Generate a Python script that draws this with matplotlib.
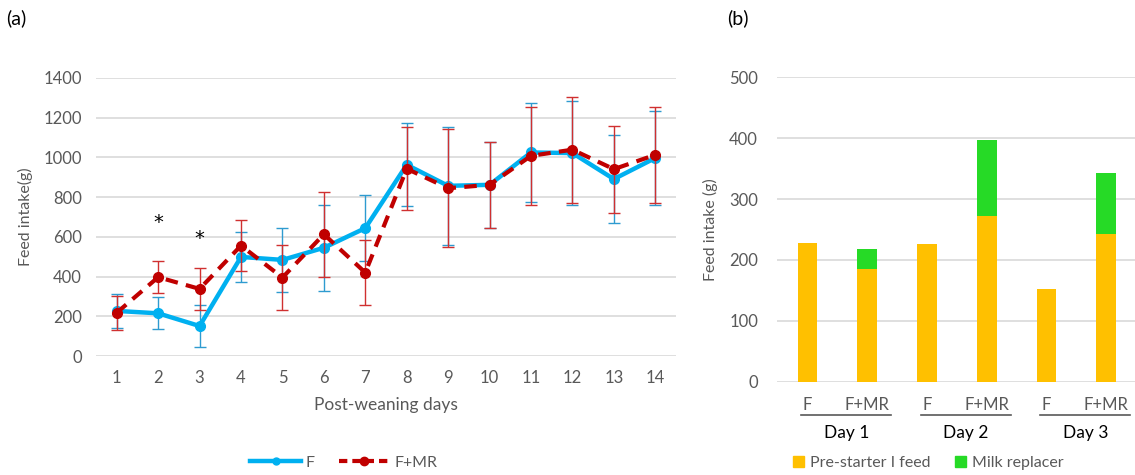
import matplotlib.pyplot as plt
from matplotlib.patches import Patch
from matplotlib.lines import Line2D

plt.rcParams['font.family'] = ['Lato', 'DejaVu Sans']

# daily feed intake after weaning (g), mean and sd
days = list(range(1, 15))
f_mean = [227, 215, 151, 499, 484, 545, 644, 963, 857, 862, 1025, 1022, 891, 997]
f_sd = [84, 80, 106, 128, 160, 217, 167, 209, 298, 215, 247, 263, 220, 235]
mr_mean = [218, 397, 338, 556, 395, 613, 420, 943, 845, 862, 1008, 1039, 941, 1013]
mr_sd = [86, 80, 105, 127, 162, 214, 165, 209, 298, 216, 248, 266, 219, 240]
star_days = [2, 3]
star_y = [672, 593]

# first three days: pre-starter feed and milk replacer intake (g)
groups = ['F', 'F+MR', 'F', 'F+MR', 'F', 'F+MR']
day_names = ['Day 1', 'Day 2', 'Day 3']
starter = [227, 185, 226, 272, 152, 242]
milk = [0, 33, 0, 125, 0, 101]

gray = '#595959'
grid_c = '#D9D9D9'
blue = '#00B0F0'
red = '#C00000'
orange = '#FFC000'
green = '#26DA26'

fig = plt.figure(figsize=(11.35, 4.75), dpi=100)

# (a) line chart
ax = fig.add_axes([0.0846, 0.2505, 0.511, 0.5853])
ax.errorbar(days, f_mean, yerr=f_sd, color=blue, lw=3.2, marker='o', ms=7,
            ecolor='#2E9BD0', elinewidth=1, capsize=4, capthick=1, zorder=3)
ax.errorbar(days, mr_mean, yerr=mr_sd, color=red, lw=3, ls=(0, (3, 2)), marker='o', ms=7,
            ecolor='#D03030', elinewidth=1, capsize=4, capthick=1, zorder=4)
for d, y in zip(star_days, star_y):
    ax.text(d, y, '*', ha='center', va='center', fontsize=14, color='black',
            family='DejaVu Sans')
ax.set_xlim(0.5, 14.5)
ax.set_ylim(0, 1400)
ax.set_yticks(range(0, 1401, 200))
ax.set_xticks(days)
ax.grid(axis='y', color=grid_c, lw=1.2)
ax.set_axisbelow(True)
for s in ax.spines.values():
    s.set_visible(False)
ax.tick_params(length=0, labelsize=12, colors=gray, pad=10)
ax.set_xlabel('Post-weaning days', fontsize=12.5, color=gray, labelpad=8)
ax.set_ylabel('Feed intake(g)', fontsize=11.5, color=gray, labelpad=8)
handles = [Line2D([], [], color=blue, lw=3.2, marker='o', ms=5),
           Line2D([], [], color=red, lw=3, ls=(0, (2, 1.2)), marker='o', ms=6)]
fig.legend(handles, ['F', 'F+MR'], loc='center', bbox_to_anchor=(0.303, 0.026), ncol=2,
           frameon=False, fontsize=11.5, labelcolor=gray, handlelength=3.2,
           handletextpad=0.3, columnspacing=1.5)
fig.text(0.005, 0.962, '(a)', fontsize=14, va='center')

# (b) stacked bars
bx = fig.add_axes([0.685, 0.1964, 0.316, 0.641])
pos = range(len(groups))
bx.bar(pos, starter, width=0.33, color=orange, zorder=2)
bx.bar(pos, milk, width=0.33, bottom=starter, color=green, zorder=2)
bx.set_xlim(-0.5, 5.5)
bx.set_ylim(0, 500)
bx.set_yticks(range(0, 501, 100))
bx.set_xticks([])
bx.grid(axis='y', color=grid_c, lw=1.2)
bx.set_axisbelow(True)
for s in bx.spines.values():
    s.set_visible(False)
bx.tick_params(length=0, labelsize=12, colors=gray, pad=14)
bx.set_ylabel('Feed intake (g)', fontsize=11.5, color=gray, labelpad=8)
tr = bx.get_xaxis_transform()
for i, g in enumerate(groups):
    bx.text(i, -0.075, g, transform=tr, ha='center', va='center', fontsize=12, color=gray)
for k, name in enumerate(day_names):
    x0, x1 = 2 * k - 0.1, 2 * k + 1.4
    bx.plot([x0, x1], [-0.109, -0.109], transform=tr, color=gray, lw=1.2, clip_on=False)
    bx.text((x0 + x1) / 2, -0.168, name, transform=tr, ha='center', va='center',
            fontsize=12.5, color='black')
fig.legend([Patch(color=orange), Patch(color=green)], ['Pre-starter I feed', 'Milk replacer'],
           loc='center', bbox_to_anchor=(0.818, 0.026), ncol=2, frameon=False,
           fontsize=11.5, labelcolor=gray, handlelength=0.7, handleheight=0.7,
           handletextpad=0.4, columnspacing=1.5)
fig.text(0.641, 0.962, '(b)', fontsize=14, va='center')

fig.savefig('out.png', dpi=100)
